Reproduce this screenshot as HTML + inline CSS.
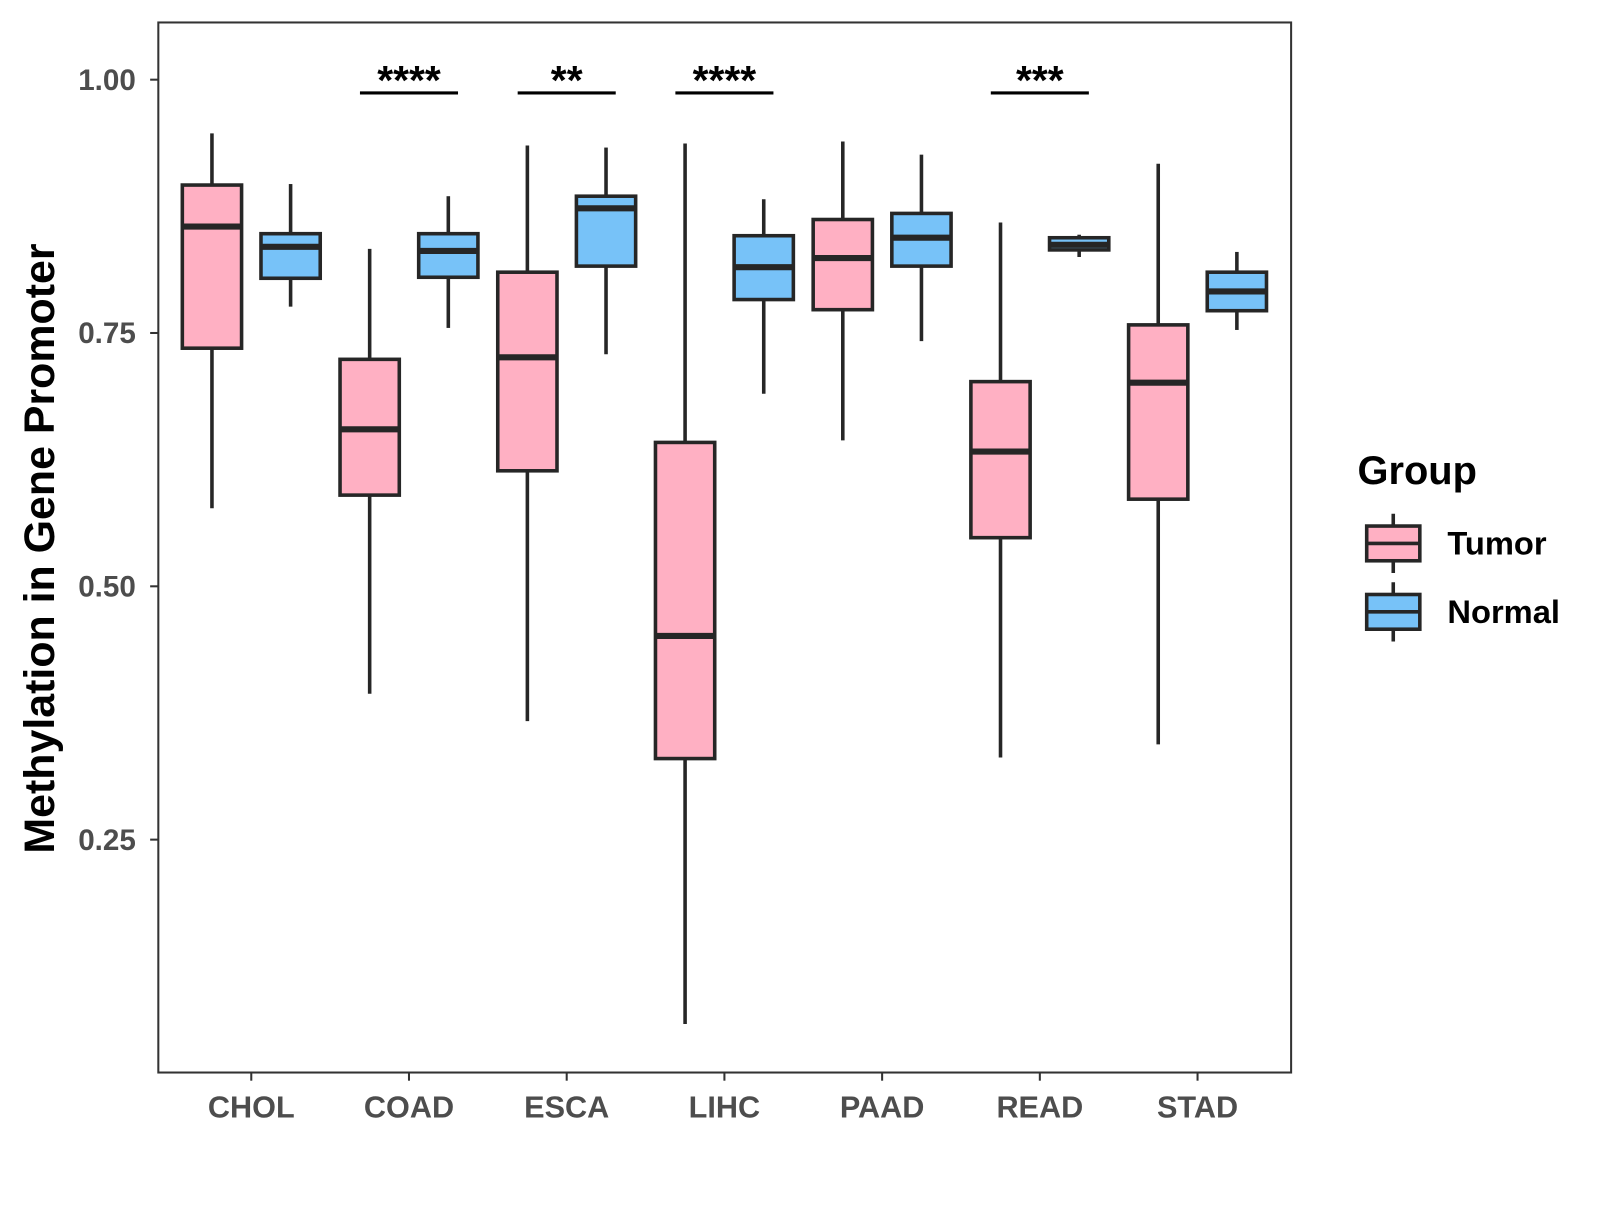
<!DOCTYPE html>
<html><head><meta charset="utf-8"><style>
body{margin:0;background:#fff;}
svg text{font-family:"Liberation Sans",Arial,sans-serif;font-weight:bold;}
</style></head><body>
<svg id="chart" width="1600" height="1200" viewBox="0 0 1566.4 1174.8" xmlns="http://www.w3.org/2000/svg">
<rect x="0" y="0" width="1600" height="1200" fill="#fff"/>
<g id="plot"></g>
</svg>
<script>
const categories=["CHOL","COAD","ESCA","LIHC","PAAD","READ","STAD"];
// [low, q1, median, q3, high]
const tumor=[[0.577,0.735,0.855,0.896,0.947],[0.394,0.590,0.655,0.724,0.833],[0.367,0.614,0.726,0.810,0.935],[0.068,0.330,0.451,0.642,0.937],[0.644,0.773,0.824,0.862,0.939],[0.331,0.548,0.633,0.702,0.859],[0.344,0.586,0.701,0.758,0.917]];
const normal=[[0.776,0.804,0.835,0.848,0.897],[0.755,0.805,0.831,0.848,0.885],[0.729,0.816,0.873,0.885,0.933],[0.690,0.783,0.815,0.846,0.882],[0.742,0.816,0.844,0.868,0.926],[0.825,0.832,0.837,0.844,0.847],[0.753,0.772,0.791,0.810,0.830]];
const signif=["","****","**","****","","***",""];
const yTicks=[0.25,0.50,0.75,1.00];
const yTickLabels=["0.25","0.50","0.75","1.00"];

const NS="http://www.w3.org/2000/svg";
const g=document.getElementById('plot');
const L=155,R=1264,T=22,B=1050;
const y=v=>78+(1-v)*992;
const x=i=>246+i*154.4;
function mk(t,a,p){const e=document.createElementNS(NS,t);for(const k in a)e.setAttribute(k,a[k]);(p||g).appendChild(e);return e;}

const frame=mk('rect',{x:L,y:T,width:R-L,height:B-T,fill:'none',stroke:'#333','stroke-width':2});



yTicks.forEach((v,i)=>{
  const tk=mk('line',{x1:L-8,x2:L,y1:y(v),y2:y(v),stroke:'#333','stroke-width':2});
  
  
  const t=mk('text',{x:L-22,y:y(v)+10,'text-anchor':'end','font-size':29,fill:'#4d4d4d'});
  t.textContent=yTickLabels[i];
  
  
});
categories.forEach((c,i)=>{
  const tk=mk('line',{x1:x(i),x2:x(i),y1:B,y2:B+8,stroke:'#333','stroke-width':2});
  
  
  const t=mk('text',{x:x(i),y:1094,'text-anchor':'middle','font-size':30,fill:'#4d4d4d'});
  t.textContent=c;
  
  
});
const yt=mk('text',{x:0,y:0,transform:'translate(53,537) rotate(-90)','text-anchor':'middle','font-size':42,fill:'#000'});
yt.textContent='Methylation in Gene Promoter';



function box(cx,d,fill,name){
  const grp=mk('g',{});
  
  
  const w=58;
  mk('line',{x1:cx,x2:cx,y1:y(d[4]),y2:y(d[3]),stroke:'#262626','stroke-width':3.5},grp);
  mk('line',{x1:cx,x2:cx,y1:y(d[1]),y2:y(d[0]),stroke:'#262626','stroke-width':3.5},grp);
  mk('rect',{x:cx-w/2,y:y(d[3]),width:w,height:y(d[1])-y(d[3]),fill:fill,stroke:'#262626','stroke-width':3.5},grp);
  mk('line',{x1:cx-w/2,x2:cx+w/2,y1:y(d[2]),y2:y(d[2]),stroke:'#262626','stroke-width':6},grp);
}
categories.forEach((c,i)=>{
  box(x(i)-38.5,tumor[i],'#FFB0C3','box-tumor-'+c.toLowerCase());
  box(x(i)+38.5,normal[i],'#77C2F8','box-normal-'+c.toLowerCase());
  if(signif[i]){
    const ln=mk('line',{x1:x(i)-48,x2:x(i)+48,y1:91,y2:91,stroke:'#000','stroke-width':3});
    
    
    const t=mk('text',{x:x(i),y:92,'text-anchor':'middle','font-size':40,fill:'#000'});
    t.textContent=signif[i];
    
    
  }
});
// legend
const lt=mk('text',{x:1329,y:474,'font-size':39,fill:'#000'});
lt.textContent='Group';


[['Tumor','#FFB0C3',532],['Normal','#77C2F8',599]].forEach(([n,f,cy])=>{
  const grp=mk('g',{});
  
  
  mk('line',{x1:1364,x2:1364,y1:cy-29,y2:cy+29,stroke:'#262626','stroke-width':3.5},grp);
  mk('rect',{x:1338,y:cy-17,width:52,height:34,fill:f,stroke:'#262626','stroke-width':3.5},grp);
  mk('line',{x1:1338,x2:1390,y1:cy,y2:cy,stroke:'#262626','stroke-width':3.5},grp);
  const t=mk('text',{x:1417,y:cy+11,'font-size':32,fill:'#000'},grp);
  t.textContent=n;
});
</script>
</body></html>
